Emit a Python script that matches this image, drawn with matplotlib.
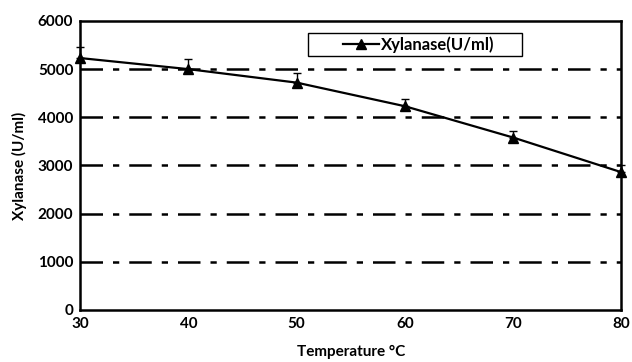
import matplotlib
matplotlib.use("Agg")
import matplotlib.pyplot as plt
from matplotlib.patches import Rectangle

temperature = [30, 40, 50, 60, 70, 80]
xylanase = [5230, 5000, 4720, 4230, 3580, 2860]
err_upper = [220, 210, 200, 160, 140, 140]
err_lower = [0, 0, 0, 0, 0, 0]
yticks = [0, 1000, 2000, 3000, 4000, 5000, 6000]
xticks = [30, 40, 50, 60, 70, 80]

plt.rcParams['font.family'] = ['Lato', 'DejaVu Sans']
plt.rcParams['font.weight'] = 'bold'

fig = plt.figure(figsize=(6.32, 3.62), dpi=100)
ax = fig.add_axes([0.127, 0.144, 0.856, 0.798])

for y in yticks[1:-1]:
    ax.axhline(y, color='black', lw=1.8, ls=(0, (9, 4, 2.5, 4)), zorder=1)

ax.errorbar(temperature, xylanase, yerr=[err_lower, err_upper], fmt='none',
            ecolor='black', elinewidth=1.0, capsize=3, capthick=1.0, zorder=2,
            clip_on=False)
ax.plot(temperature, xylanase, color='black', lw=1.6, marker='^', ms=7,
        label='Xylanase(U/ml)', zorder=3, clip_on=False)

ax.set_xlim(30, 80)
ax.set_ylim(0, 6000)
ax.set_xticks(xticks)
ax.set_yticks(yticks)
ax.tick_params(length=0, labelsize=11, pad=5)
for lab in ax.get_xticklabels() + ax.get_yticklabels():
    lab.set_fontweight('bold')
for s in ax.spines.values():
    s.set_linewidth(1.8)
    s.set_color('black')

ax.set_xlabel('Temperature °C', fontsize=11, fontweight='bold', labelpad=10)
ax.set_ylabel('Xylanase (U/ml)', fontsize=11, fontweight='bold', labelpad=8)

# legend frame (wider box as in the reference)
ax.add_patch(Rectangle((0.421, 0.879), 0.396, 0.079, transform=ax.transAxes,
                       facecolor='white', edgecolor='black', lw=1.0, zorder=4))
leg = ax.legend(loc='center left', bbox_to_anchor=(0.485, 0.9185), frameon=False,
                prop={'weight': 'bold', 'size': 12},
                handlelength=2.2, handletextpad=0.1, borderpad=0, borderaxespad=0)
leg.set_zorder(5)

fig.savefig('out.png', dpi=100)
